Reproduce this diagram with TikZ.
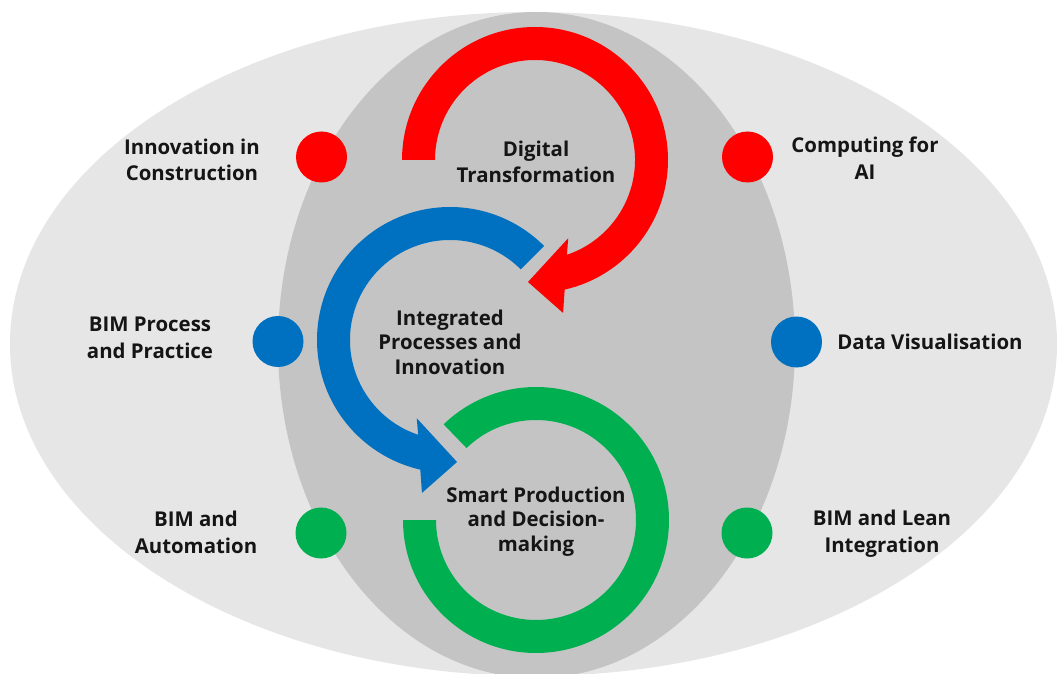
\documentclass[tikz,border=0pt]{standalone}
\usepackage{fontspec}
\setmainfont{Open Sans}
\definecolor{outerg}{HTML}{E6E6E6}
\definecolor{innerg}{HTML}{C4C4C4}
\definecolor{cred}{HTML}{FF0000}
\definecolor{cblue}{HTML}{0070C0}
\definecolor{cgreen}{HTML}{00B050}
\definecolor{txt}{HTML}{151515}
\tikzset{
  dot/.style={circle, inner sep=0pt, minimum size=51pt, fill=#1},
  lbl/.style={align=center, text=txt, font=\fontsize{20.4}{26.5}\selectfont\bfseries, inner sep=0pt},
  lblc/.style={align=center, text=txt, font=\fontsize{20.4}{24.5}\selectfont\bfseries, inner sep=0pt}
}
\begin{document}
\begin{tikzpicture}[x=1pt,y=1pt]
\useasboundingbox (0,0) rectangle (1057,673);
\fill[white] (0,0) rectangle (1057,673);
\begin{scope}
\clip (0,0) rectangle (1057,673);
\fill[outerg] (533.5,329) ellipse [x radius=523.5, y radius=332];
\fill[innerg] (536.5,328) ellipse [x radius=258.5, y radius=333];
\end{scope}
% centres of the ring arrows
\coordinate (rc) at (535,513);
\coordinate (bc) at (450,333);
\coordinate (gc) at (536,153);
% red arrow
\fill[cred] ([shift={(180:133)}]rc) arc[start angle=180, end angle=-77.1, radius=133]
  -- ([shift={(-79.6:155.5)}]rc) -- ([shift={(-93.3:122.2)}]rc) -- ([shift={(-67:85)}]rc)
  -- ([shift={(-71.4:100)}]rc) arc[start angle=-71.4, end angle=180, radius=100] -- cycle;
% blue arrow
\fill[cblue] ([shift={(45:133)}]bc) arc[start angle=45, end angle=257.1, radius=133]
  -- ([shift={(259.6:155.5)}]bc) -- ([shift={(273.3:122.2)}]bc) -- ([shift={(247:85)}]bc)
  -- ([shift={(251.4:100)}]bc) arc[start angle=251.4, end angle=45, radius=100] -- cycle;
% green ring
\fill[cgreen] ([shift={(180:133)}]gc) arc[start angle=180, end angle=494, radius=133]
  -- ([shift={(494:100)}]gc) arc[start angle=494, end angle=180, radius=100] -- cycle;
% dots
\node[dot=cred] (d1) at (321.5,516) {};
\node[dot=cred] (d2) at (747.5,516) {};
\node[dot=cblue] (d3) at (278,331.5) {};
\node[dot=cblue] (d4) at (796.5,331) {};
\node[dot=cgreen] (d5) at (321,140) {};
\node[dot=cgreen] (d6) at (747,140) {};
% labels
\node[lbl] (t1) at (192,513) {Innovation in\\Construction};
\node[lbl] (t2) at (865,515) {Computing for\\AI};
\node[lbl] (t3) at (150,335) {BIM Process\\and Practice};
\node[lbl] (t4) at (930,331) {Data Visualisation};
\node[lbl] (t5) at (196,140.5) {BIM and\\Automation};
\node[lbl] (t6) at (882,139.5) {BIM and Lean\\Integration};
\node[lbl] (c1) at (536,511) {Digital\\Transformation};
\node[lblc] (c2) at (450,331) {Integrated\\Processes and\\Innovation};
\node[lblc] (c3) at (536,151.5) {Smart Production\\and Decision-\\making};
\end{tikzpicture}
\end{document}
